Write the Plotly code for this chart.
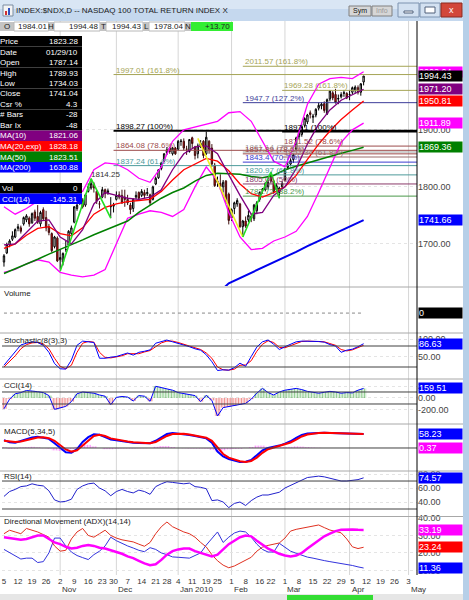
import pandas as pd
import plotly.graph_objects as go

# trading calendar, Oct 5 2009 .. May 7 2010 (exchange holidays removed)
HOLIDAYS = ["2009-11-26", "2009-12-25", "2010-01-01", "2010-01-18",
            "2010-02-15", "2010-04-02"]
CAL = pd.bdate_range("2009-10-05", "2010-05-07")
CAL = CAL[~CAL.isin(pd.to_datetime(HOLIDAYS))]

# daily OHLC, Oct 5 2009 .. Apr 9 2010
OPEN = [1668, 1684, 1698, 1708, 1712, 1727, 1728, 1735, 1742, 1745, 1737, 1756, 1748, 1735, 1760, 1746, 1730, 1718, 1695, 1710,
        1672, 1668, 1690, 1698, 1718, 1738, 1762, 1772, 1775, 1768, 1792, 1798, 1805, 1792, 1770, 1782, 1795, 1790, 1765, 1766,
        1778, 1786, 1785, 1782, 1778, 1768, 1762, 1782, 1790, 1785, 1790, 1788, 1786, 1778, 1805, 1816, 1832, 1845, 1860, 1868, 1858, 1868,
        1866, 1880, 1880, 1866, 1862, 1886, 1870, 1858, 1872, 1880, 1858, 1880, 1868, 1838, 1808, 1806, 1800, 1810, 1787.14,
        1746, 1762, 1770, 1770, 1730, 1740, 1742, 1748, 1744, 1758, 1778, 1794, 1795, 1800, 1822, 1810, 1795, 1790, 1800,
        1812, 1834, 1840, 1848, 1866, 1888, 1892, 1908, 1914, 1930, 1922, 1926, 1938, 1942, 1946, 1928, 1954, 1965, 1962, 1954, 1958, 1964, 1964,
        1962, 1966, 1970, 1974, 1966, 1984.01]
HIGH = [1682, 1702, 1708, 1722, 1727, 1735, 1732, 1748, 1752, 1748, 1755, 1760, 1768, 1758, 1764, 1758, 1735, 1720, 1714, 1713,
        1690, 1685, 1705, 1724, 1732, 1766, 1772, 1782, 1780, 1788, 1806, 1814.25, 1808, 1794, 1775, 1800, 1797, 1797, 1782, 1772,
        1792, 1792, 1795, 1795, 1786, 1772, 1780, 1792, 1792, 1796, 1795, 1798, 1788, 1802, 1818, 1831, 1844, 1859, 1870, 1870, 1870, 1870,
        1882, 1884, 1885, 1872, 1884, 1888, 1872, 1876, 1882, 1882, 1897, 1882, 1875, 1842, 1818, 1822, 1812, 1812, 1789.93,
        1762, 1774, 1780, 1772, 1742, 1748, 1758, 1752, 1770, 1775, 1792, 1798, 1808, 1812, 1826, 1812, 1806, 1800, 1810,
        1833, 1844, 1850, 1858, 1888, 1898, 1910, 1922, 1928, 1934, 1928, 1938, 1948, 1948, 1950, 1955, 1970, 1968, 1972, 1962, 1966, 1970, 1966,
        1970, 1976, 1978, 1978, 1982, 1994.48]
LOW = [1660, 1682, 1694, 1705, 1710, 1722, 1718, 1732, 1738, 1730, 1735, 1740, 1735, 1730, 1740, 1722, 1715, 1685, 1692, 1668,
       1655, 1662, 1686, 1696, 1714, 1736, 1758, 1768, 1762, 1765, 1790, 1795, 1790, 1770, 1762, 1780, 1780, 1786, 1745, 1755,
       1776, 1778, 1770, 1765, 1768, 1752, 1756, 1778, 1776, 1782, 1780, 1784, 1768, 1776, 1803, 1814, 1829, 1844, 1856, 1858, 1855, 1856,
       1864, 1872, 1864, 1856, 1860, 1868, 1848, 1850, 1868, 1850, 1856, 1858, 1835, 1800, 1800, 1795, 1790, 1770, 1734.03,
       1740, 1752, 1765, 1728, 1712, 1728, 1738, 1738, 1740, 1752, 1774, 1788, 1792, 1796, 1806, 1788, 1792, 1780, 1796,
       1810, 1830, 1836, 1842, 1864, 1884, 1888, 1904, 1910, 1920, 1912, 1922, 1934, 1936, 1930, 1926, 1950, 1952, 1946, 1945, 1955, 1958, 1954,
       1952, 1962, 1964, 1962, 1960, 1978.04]
CLOSE = [1679, 1699, 1705, 1714, 1725, 1730, 1722, 1746, 1749, 1735, 1753, 1745, 1738, 1755, 1744, 1728, 1720, 1688, 1712, 1670,
         1676, 1683, 1690, 1722, 1728, 1765, 1768, 1776, 1765, 1786, 1800, 1806, 1798, 1775, 1770, 1795, 1788, 1793, 1766, 1768,
         1785, 1782, 1772, 1778, 1772, 1760, 1778, 1785, 1780, 1792, 1785, 1790, 1772, 1800, 1815, 1830, 1842, 1858, 1865, 1862, 1868, 1858,
         1880, 1880, 1868, 1866, 1883, 1876, 1855, 1872, 1876, 1855, 1887, 1866, 1840, 1802, 1810, 1800, 1808, 1775, 1741.04,
         1760, 1772, 1776, 1730, 1740, 1731, 1750, 1745, 1768, 1772, 1790, 1796, 1806, 1808, 1810, 1792, 1802, 1798, 1806,
         1832, 1838, 1846, 1856, 1886, 1894, 1906, 1920, 1926, 1927, 1924, 1936, 1943, 1945, 1934, 1953, 1968, 1956, 1948, 1955, 1962, 1965, 1956,
         1962, 1974, 1975, 1966, 1980.73, 1994.43]
VOLUME = [0] * len(CLOSE)

N = len(CLOSE)
IDX = list(range(N))
MA_IDX = list(range(0, N, 4))      # overlay lines, read every 4th bar
IND_IDX = list(range(0, N, 2))     # indicator lines, read every 2nd bar

MA10 = [1698, 1700, 1720, 1740, 1742, 1712, 1700, 1725, 1770, 1790, 1785, 1780, 1778, 1782, 1795, 1830, 1858,
        1870, 1872, 1858, 1821.06, 1785, 1752, 1755, 1785, 1800, 1832, 1875, 1910, 1935, 1952, 1962, 1971.20]
EMA20 = [1692, 1700, 1715, 1727, 1730, 1718, 1714, 1728, 1752, 1764, 1770, 1774, 1776, 1778, 1792, 1812, 1830,
         1840, 1850, 1845, 1828.18, 1805, 1788, 1782, 1790, 1800, 1820, 1848, 1875, 1898, 1918, 1935, 1950.81]
MA50 = [1648, 1656, 1665, 1673, 1682, 1690, 1699, 1707, 1716, 1724, 1733, 1740, 1755, 1768, 1780, 1790, 1798,
        1810, 1820, 1824, 1823.51, 1822, 1818, 1816, 1820, 1830, 1836, 1842, 1848, 1854, 1859, 1864, 1869.36]
MA200_IDX = MA_IDX[18:]
MA200 = [1600, 1612, 1630.88, 1640, 1649, 1658, 1667, 1677, 1686, 1696, 1705, 1714, 1723, 1732, 1741.66]
BB_UP = [1765, 1752, 1762, 1775, 1778, 1790, 1790, 1792, 1830, 1842, 1840, 1830, 1815, 1808, 1835, 1880, 1900,
         1905, 1910, 1915, 1930, 1932, 1915, 1880, 1845, 1835, 1880, 1945, 1980, 1990, 1992, 1990, 2002.04]
BB_LO = [1650, 1655, 1665, 1672, 1668, 1650, 1645, 1642, 1645, 1655, 1700, 1745, 1752, 1758, 1755, 1748, 1760,
         1800, 1835, 1810, 1755, 1712, 1690, 1692, 1705, 1712, 1722, 1748, 1790, 1835, 1878, 1900, 1911.89]

STOCH_K = [25, 45, 65, 83, 88, 92, 90, 82, 62, 30, 15, 14, 40, 82, 94, 93, 90, 45, 45, 48,
           50, 55, 60, 54, 62, 65, 69, 88, 92, 97, 92, 88, 84, 78, 72, 68, 55, 35, 10, 12,
           11, 18, 31, 22, 50, 77, 92, 97, 85, 70, 78, 84, 92, 94, 94, 94, 93, 91, 84, 80,
           62, 68, 71, 78, 86.63]
STOCH_D = [20, 35, 52, 72, 84, 89, 90, 86, 72, 45, 22, 15, 25, 62, 88, 93, 91, 62, 47, 46,
           49, 52, 58, 57, 58, 63, 67, 78, 89, 94, 94, 90, 86, 80, 75, 70, 60, 45, 20, 12,
           11, 14, 25, 26, 38, 65, 85, 95, 90, 76, 75, 81, 88, 93, 94, 94, 93, 92, 87, 82,
           70, 66, 69, 75, 82]
CCI = [-180, -20, 70, 90, 125, 120, 105, 90, 40, -190, -170, -140, -60, 70, 100, 95, 80, 50, 30, -110,
       10, 25, 15, -50, 40, 30, -55, 195, 175, 150, 130, 90, 70, 60, 40, -60, 45, -40, -300, -160,
       -145.31, -130, -110, -90, -20, 80, 160, 90, 50, 100, 130, 150, 160, 140, 110, 95, 80, 95, 110, 100,
       80, 90, 85, 130, 159.51]
MACD = [33, 24, 22, 30, 36, 44, 47, 44, 38, 20, 0, -18, -20, -5, 25, 45, 57, 55, 45, 35,
        32, 28, 25, 22, 21, 20, 20, 30, 45, 58, 62, 60, 58, 54, 50, 46, 40, 22, -15, -35,
        -46, -52, -58, -57, -50, -30, -10, 0, 4, 10, 18, 28, 42, 54, 60, 62, 63, 63, 62, 61,
        60, 59, 58, 58, 58.23]
SIGNAL = [30, 28, 25, 27, 32, 39, 44, 45, 41, 30, 12, -6, -15, -10, 10, 32, 50, 55, 50, 40,
          35, 30, 27, 24, 22, 21, 20, 25, 37, 50, 58, 60, 59, 56, 52, 48, 43, 30, 0, -25,
          -40, -48, -55, -58, -54, -40, -20, -5, 2, 7, 14, 23, 35, 48, 56, 60, 62, 63, 62, 61,
          60, 59, 58.5, 58, 57.86]
MACD_HIST = [3, -4, -3, 3, 4, 5, 3, -1, -3, -10, -12, -12, -5, 5, 15, 13, 7, 0, -5, -5,
             -3, -2, -2, -2, -1, -1, 0, 5, 8, 8, 4, 0, -1, -2, -2, -2, -3, -8, -15, -10,
             -6, -4, -3, 1, 4, 10, 10, 5, 2, 3, 4, 5, 7, 6, 4, 2, 1, 0, 0, 0,
             0, 0, 0, 0, 0.37]
RSI = [48, 55, 58, 62, 63, 66, 64, 63, 56, 43, 40, 41, 44, 58, 63, 66, 67, 60, 56, 49,
       55, 58, 55, 53, 57, 55, 51, 62, 66, 69, 68, 67, 66, 67, 62, 61, 59, 42, 43, 40,
       32, 38, 40, 35, 42, 47, 50, 50, 52, 54, 60, 64, 68, 72, 75, 76, 77, 76, 74, 71,
       70, 70, 71, 72, 74.57]
ADX = [29, 28.5, 28, 27.5, 28, 29, 30, 30, 28, 26, 25, 23.5, 22.5, 23, 24, 24.5, 24, 23, 22.5, 21.5,
       20.5, 19.5, 18, 17, 15.5, 14, 13, 13.5, 16, 19, 21, 22, 22.5, 22.5, 21, 20, 19, 18, 19, 22,
       25, 27, 29, 30, 29.5, 27, 24.5, 22.5, 21, 19.5, 18.5, 18, 18.5, 20, 22.5, 25, 27.5, 29.5, 31, 32.5,
       33.2, 33.5, 33.4, 33.2, 33.19]
PLUS_DI = [31, 33, 32, 31, 34, 33, 32, 30.5, 29, 24, 21, 21.5, 28, 32, 34, 30, 29, 31, 33, 30,
           28.5, 27.5, 27, 26.3, 25, 23.8, 26, 31, 35, 37.7, 35, 33.3, 32, 31, 29, 26, 23.4, 19, 15.5, 13,
           11.5, 12.5, 14.2, 15.5, 17.5, 21, 23.3, 24.3, 25, 25.7, 28.5, 32.5, 33.5, 34.2, 34.8, 35.5, 36, 34.5, 33.1, 32.3,
           31.5, 28, 23.5, 22.5, 23.24]
MINUS_DI = [22, 20, 18, 16.5, 17, 17, 14.5, 15, 20, 28.5, 28.5, 24, 20.5, 18.5, 17.3, 16.2, 19, 21, 24, 29,
            27, 25.3, 24, 22.8, 21.5, 20.7, 23, 22, 20, 19, 17.7, 17.5, 17.3, 17, 18.5, 20, 24.5, 28, 32, 26,
            29, 31.4, 32.5, 32, 29, 25, 22, 20.5, 20.5, 25.5, 23.5, 21, 19.8, 18.5, 17.6, 17, 16.1, 15.6, 15, 14.5,
            14, 13.4, 12.8, 12, 11.36]

# swing lines drawn on the chart (bar index, price)
GREEN_SWING_1 = ([20, 31, 38], [1652, 1814.25, 1745])
YELLOW_SWING = ([69, 85], [1885, 1712])
GREEN_SWING_2 = ([85, 95, 98], [1712, 1826, 1780])

# fibonacci tools: start bar, (level, label, colour)
OLIVE, NAVY, BROWN, TEAL = "#a5a455", "#3d3d99", "#9c4a4a", "#4d9b9b"
FIB_A_START = 39
FIB_A = [(1997.01, "161.8%", OLIVE), (1898.27, "100%", "black"),
         (1864.08, "78.6%", BROWN), (1837.24, "61.8%", TEAL)]
FIB_B_START = 85
FIB_B = [(2011.57, "161.8%", OLIVE), (1947.7, "127.2%", NAVY), (1861.14, "76.4%", "#a0a0a0"),
         (1857.89, "78.6%", BROWN), (1843.4, "70.7%", "#3c3cd0"), (1820.97, "61.8%", TEAL),
         (1805.06, "50%", "#8a3a6a"), (1783.72, "38.2%", "#4a994a")]
FIB_C_START = 99
FIB_C = [(1969.28, "161.8%", OLIVE), (1897.1, "100%", "black"),
         (1871.52, "78.6%", BROWN), (1852.34, "61.8%", "#9a6a6a")]

CURSOR = 80   # bar under the crosshair (01/29/10)

FONT = "Arial, Liberation Sans, sans-serif"
W, H = 469, 600
ML, MR, MT, MB = 2, 52, 21, 25
XRANGE = [-0.7, 147]


def px(x):
    return (x - ML) / (W - ML - MR)


def py(y):
    return (H - MB - y) / (H - MT - MB)


# panels: axis name, top pixel, bottom pixel, range, ticks
PANELS = [
    ("y", 21, 286, [1626, 2091], [1700, 1800, 1900]),
    ("y2", 288, 332, [-0.86, 1.14], []),
    ("y3", 334, 378, [-11.4, 114.3], [50, 100]),
    ("y4", 380, 423, [-417, 300], [200, 0, -200]),
    ("y5", 425, 470, [-91.7, 95.8], []),
    ("y6", 472, 516, [20, 82.9], [80, 60, 40]),
    ("y7", 517, 575, [7.35, 40.57], [40, 30, 20, 10]),
]

# week / month ticks from the calendar
week_ticks, week_text, month_ticks, month_text = [], [], [], []
prev = None
for i, d in enumerate(CAL):
    wk = tuple(d.isocalendar())[:2]
    if wk != prev:
        week_ticks.append(i)
        week_text.append(str(d.day))
        prev = wk
    if i > 0 and d.month != CAL[i - 1].month:
        month_ticks.append(i)
        month_text.append("Jan 2010" if d.month == 1 else d.strftime("%b"))

fig = go.Figure()


def line(x, y, color, width=1, yaxis="y", dash=None):
    fig.add_trace(go.Scatter(x=x, y=y, mode="lines", yaxis=yaxis, xaxis="x",
                             line=dict(color=color, width=width, dash=dash),
                             hoverinfo="skip"))


def histogram(x, y, yaxis, colors):
    # each reading covers two bars: draw it as fine vertical hatching
    fig.add_trace(go.Bar(x=x, y=y, yaxis=yaxis, xaxis="x", width=2, hoverinfo="skip",
                         marker=dict(color="rgba(0,0,0,0)", line_width=0,
                                     pattern=dict(shape="|", fgcolor=colors, bgcolor="rgba(0,0,0,0)",
                                                  size=2.8, solidity=0.55))))


# fibonacci levels
for start, levels in [(FIB_A_START, FIB_A), (FIB_B_START, FIB_B), (FIB_C_START, FIB_C)]:
    for v, pct, col in levels:
        line([start, XRANGE[1]], [v, v], col, 2 if pct == "100%" else 1)
        fig.add_annotation(x=start, y=v, xref="x", yref="y", xanchor="left", yanchor="bottom",
                           text=f"{v:g} ({pct})", showarrow=False, yshift=-2,
                           font=dict(family=FONT, size=8, color=col))

line(MA_IDX, BB_UP, "#ff00ff", 1.3)
line(MA_IDX, BB_LO, "#ff00ff", 1.3)

fig.add_trace(go.Candlestick(
    x=IDX, open=OPEN, high=HIGH, low=LOW, close=CLOSE, xaxis="x", yaxis="y",
    increasing=dict(fillcolor="white", line=dict(color="black", width=1)),
    decreasing=dict(fillcolor="#e00000", line=dict(color="#401010", width=1)),
    whiskerwidth=0, hoverinfo="skip"))

line(MA_IDX, MA50, "#008000", 1.5)
line(MA200_IDX, MA200, "#0000ee", 2)
line(MA_IDX, EMA20, "#ff0000", 1.3)
line(MA_IDX, MA10, "#800080", 1.3)
line(*GREEN_SWING_1, "#22dd22", 1.6)
line(*YELLOW_SWING, "#eeee22", 1.6)
line(*GREEN_SWING_2, "#22dd22", 1.6)
fig.add_annotation(x=GREEN_SWING_1[0][1] - 0.8, y=GREEN_SWING_1[1][1], xref="x", yref="y",
                   xanchor="left", yanchor="bottom", text=f"{GREEN_SWING_1[1][1]:.2f}",
                   showarrow=False, yshift=-2, font=dict(family=FONT, size=8, color="#333"))

# volume
line(IDX, VOLUME, "#888888", 1, "y2", "dot")

# stochastic
line(IND_IDX, STOCH_D, "#ff0000", 1, "y3")
line(IND_IDX, STOCH_K, "#0000ff", 1, "y3")

# cci
histogram(IND_IDX, CCI, "y4", ["#1f9a1f" if v >= 0 else "#e01a1a" for v in CCI])
line(IND_IDX, CCI, "#0000ff", 1, "y4")

# macd
histogram(IND_IDX, MACD_HIST, "y5", "#ff22ff")
line(IND_IDX, MACD, "#0000ff", 2, "y5")
line(IND_IDX, SIGNAL, "#ff0000", 2, "y5")

# rsi
line(IND_IDX, RSI, "#2222cc", 1, "y6")

# directional movement
line(IND_IDX, MINUS_DI, "#3333dd", 1, "y7")
line(IND_IDX, PLUS_DI, "#e03020", 1, "y7")
line(IND_IDX, ADX, "#ff00ff", 2.5, "y7")

# reference levels
for yref, levels in [("y3", [80, 20]), ("y4", [100, -100]), ("y5", [0]), ("y6", [70, 30])]:
    for v in levels:
        fig.add_shape(type="line", xref="paper", yref=yref, x0=0, x1=1, y0=v, y1=v,
                      line=dict(color="#404040", width=1))

# month grid lines
for m in month_ticks:
    fig.add_shape(type="line", xref="x", yref="paper", x0=m, x1=m, y0=0, y1=1,
                  line=dict(color="#d6d6d6", width=1), layer="below")

layout = dict(
    width=W, height=H, margin=dict(l=ML, r=MR, t=MT, b=MB),
    paper_bgcolor="white", plot_bgcolor="white", showlegend=False,
    font=dict(family=FONT, size=9, color="#333"),
    xaxis=dict(domain=[0, 1], range=XRANGE, anchor="y7", tickvals=week_ticks, ticktext=week_text,
               tickangle=0, ticks="", showgrid=False, zeroline=False, showline=False,
               tickfont=dict(size=8, color="#333"), rangeslider=dict(visible=False)),
)
for name, top, bot, rng, ticks in PANELS:
    key = "yaxis" if name == "y" else "yaxis" + name[1:]
    layout[key] = dict(domain=[py(bot), py(top)], range=rng, anchor="x", side="right",
                       tickvals=ticks, ticktext=[f"{t:.2f}" for t in ticks], ticks="",
                       showgrid=True, gridcolor="#e4e4e4", griddash="dot", zeroline=False,
                       showline=False, tickfont=dict(size=9, color="#444"))
fig.update_layout(**layout)


def box(x0, y0, x1, y1, fill, edge=None):
    fig.add_shape(type="rect", xref="paper", yref="paper", x0=px(x0), x1=px(x1),
                  y0=py(y1), y1=py(y0), fillcolor=fill, layer="above",
                  line=dict(width=1 if edge else 0, color=edge or fill))


def text(x, y, s, size=8, color="#222", anchor="left"):
    fig.add_annotation(x=px(x), y=py(y), xref="paper", yref="paper", text=s, showarrow=False,
                       xanchor=anchor, yanchor="middle", borderpad=0,
                       font=dict(family=FONT, size=size, color=color))


def tag(value, yref, color, s=None):
    fig.add_annotation(x=1, xref="paper", xanchor="left", xshift=1, y=value, yref=yref,
                       yanchor="middle", text=s if s is not None else f"{value:.2f}",
                       showarrow=False, bgcolor=color, width=43, height=10, align="left",
                       borderpad=0, font=dict(family=FONT, size=9, color="white"))


# panel separators and right axis line
for yy in [287, 333, 379, 424, 471, 516.5]:
    fig.add_shape(type="line", xref="paper", yref="paper", x0=px(0), x1=px(463),
                  y0=py(yy), y1=py(yy), line=dict(color="#a8a8a8", width=1))
fig.add_shape(type="line", xref="paper", yref="paper", x0=1, x1=1, y0=0, y1=1,
              line=dict(color="black", width=1))

# month labels under the day numbers
for m, s in zip(month_ticks, month_text):
    fig.add_annotation(x=m, y=py(589), xref="x", yref="paper", text=s, showarrow=False,
                       xanchor="left", yanchor="middle", font=dict(family=FONT, size=8, color="#333"))

# panel titles
for yy, s in [(293, "Volume"), (340, "Stochastic(8(3),3)"), (385, "CCI(14)"),
              (431, "MACD(5,34,5)"), (476, "RSI(14)"), (521, "Directional Movement (ADX)(14,14)")]:
    text(3, yy, s, 8, "#222")

# last-value tags
ma = {k: dict(zip(MA_IDX, v)) for k, v in [("MA10", MA10), ("EMA20", EMA20), ("MA50", MA50)]}
ma["MA200"] = dict(zip(MA200_IDX, MA200))
tag(BB_UP[-1], "y", "#ff00ff")
tag(CLOSE[-1], "y", "black")
tag(MA10[-1], "y", "#800080")
tag(EMA20[-1], "y", "#ff0000")
tag(BB_LO[-1], "y", "#ff00ff")
tag(MA50[-1], "y", "#008000")
tag(MA200[-1], "y", "#0000ff")
tag(VOLUME[-1], "y2", "black", str(VOLUME[-1]))
tag(STOCH_K[-1], "y3", "#0000ff")
tag(CCI[-1], "y4", "#0000ff")
tag(MACD[-1], "y5", "#0000ff")
tag(MACD_HIST[-1], "y5", "#ff00ff")
tag(RSI[-1], "y6", "#0000ff")
tag(ADX[-1], "y7", "#ff00ff")
tag(PLUS_DI[-1], "y7", "#ff0000")
tag(MINUS_DI[-1], "y7", "#0000ff")

# quote strip
cells = [("O", OPEN[-1], 0, 14, 48.5), ("H", HIGH[-1], 48.5, 54, 100),
         ("T", CLOSE[-1], 100, 106, 143), ("L", LOW[-1], 143, 149, 185)]
for letter, val, x0, x1, x2 in cells:
    box(x0, 22, x1, 31, "#c4c4c4")
    box(x1, 22, x2, 31, "white", "#b8b8b8")
    text((x0 + x1) / 2, 26.5, letter, 8, "#222", "center")
    text(x2 - 1, 26.5, f"{val:.2f}", 8, "#222", "right")
box(185, 22, 191, 31, "#c4c4c4")
text(188, 26.5, "N", 8, "#222", "center")
box(191, 22, 233, 31, "#33ee33")
text(231, 26.5, f"{CLOSE[-1] - CLOSE[-2]:+.2f}", 8, "#222", "right")

# crosshair readout
rows = [("Price", "1823.28", "black"), ("Date", CAL[CURSOR].strftime("%m/%d/%y"), "black"),
        ("Open", f"{OPEN[CURSOR]:.2f}", "black"), ("High", f"{HIGH[CURSOR]:.2f}", "black"),
        ("Low", f"{LOW[CURSOR]:.2f}", "black"), ("Close", f"{CLOSE[CURSOR]:.2f}", "black"),
        ("Csr %", "4.3", "black"), ("# Bars", "-28", "black"), ("Bar Ix", "-48", "black"),
        ("MA(10)", f"{ma['MA10'][CURSOR]:.2f}", "#800080"),
        ("MA(20,exp)", f"{ma['EMA20'][CURSOR]:.2f}", "#ff0000"),
        ("MA(50)", f"{ma['MA50'][CURSOR]:.2f}", "#008000"),
        ("MA(200)", f"{ma['MA200'][CURSOR]:.2f}", "#0000ff")]
for k, (lab, val, bg) in enumerate(rows):
    y0 = 36 + 10.5 * k
    box(0, y0, 82, y0 + 10.5, bg)
    text(-1, y0 + 5.5, lab, 8, "white")
    text(79, y0 + 5.5, val, 8, "white", "right")
cci_now = dict(zip(IND_IDX, CCI))[CURSOR]
for k, (lab, val, bg) in enumerate([("Vol", str(VOLUME[CURSOR]), "black"),
                                     ("CCI(14)", f"{cci_now:.2f}", "#0000ff")]):
    y0 = 183 + 10.5 * k
    box(0, y0, 82, y0 + 10.5, bg)
    text(1, y0 + 5.5, lab, 8, "white")
    text(79, y0 + 5.5, val, 8, "white", "right")

# window chrome
box(0, 0, 469, 21, "#c5d8ee")
box(0, 0, 469, 9, "#d9e6f4")
box(3, 5, 13, 16, "#f4f4f4", "#7a8ca0")
box(5, 11, 7, 15, "#d03030")
box(8, 8, 10, 15, "#3050c0")
text(15, 11, "INDEX:$NDX,D -- NASDAQ 100 TOTAL RETURN INDEX X", 8, "#1a1a1a")
box(349, 6, 371, 16, "#d6d6d6", "#808080")
text(360, 11, "Sym", 7, "#111", "center")
box(372, 6, 392, 16, "#d6d6d6", "#808080")
text(382, 11, "Info", 7, "#9a9a9a", "center")
box(398, 3, 419, 17, "#d3e1f1", "#7c93b0")
box(404, 11, 413, 13, "white", "#50607a")
box(420, 3, 440, 17, "#d3e1f1", "#7c93b0")
box(425, 7, 435, 13, "white", "#50607a")
box(441, 3, 462, 17, "#d2473a", "#8a2a20")
text(451.5, 10, "x", 9, "white", "center")
box(463, 0, 469, 600, "#b6cfe8")
box(0, 594, 463, 600, "#e6e6e6")
box(287, 595, 373, 600, "#33dd33")

fig.write_html("out.html", config={"displayModeBar": False},
               post_script="document.body.style.margin='0';document.body.style.overflow='hidden';")
